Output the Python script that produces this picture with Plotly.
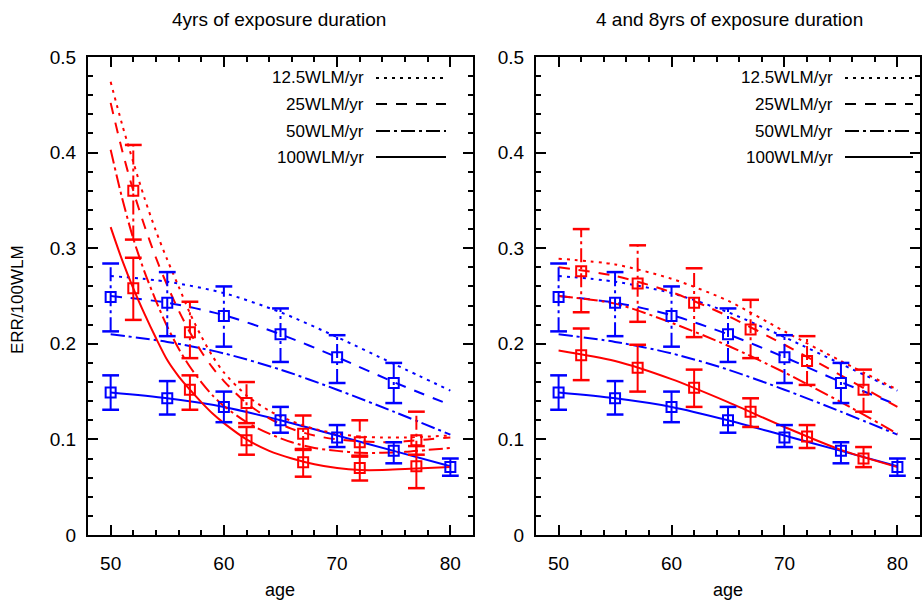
import plotly.graph_objects as go

# ---------------- data ----------------
blue_ages = [50, 55, 60, 65, 70, 75, 80]
blue_12_5 = [0.271, 0.265, 0.253, 0.233, 0.207, 0.179, 0.151]
blue_25 = [0.250, 0.243, 0.230, 0.210, 0.186, 0.160, 0.136]
blue_50 = [0.210, 0.202, 0.190, 0.173, 0.152, 0.129, 0.105]
blue_100 = [0.149, 0.143, 0.134, 0.120, 0.104, 0.088, 0.072]

red_left_ages = [50, 51, 52, 53, 54, 55, 56, 57, 58, 59, 60, 62, 64, 66, 68, 70, 72, 74, 76, 78, 80]
red_left_12_5 = [0.474, 0.430, 0.390, 0.352, 0.318, 0.288, 0.260, 0.232, 0.208, 0.187, 0.170, 0.146, 0.130,
                 0.119, 0.111, 0.106, 0.103, 0.102, 0.102, 0.103, 0.104]
red_left_25 = [0.452, 0.403, 0.360, 0.323, 0.290, 0.261, 0.235, 0.212, 0.192, 0.175, 0.161, 0.138, 0.122,
               0.111, 0.104, 0.100, 0.098, 0.097, 0.098, 0.100, 0.102]
red_left_50 = [0.403, 0.353, 0.310, 0.275, 0.245, 0.218, 0.195, 0.176, 0.160, 0.146, 0.135, 0.118, 0.106,
               0.097, 0.091, 0.088, 0.086, 0.086, 0.087, 0.089, 0.091]
red_left_100 = [0.322, 0.288, 0.258, 0.231, 0.206, 0.183, 0.166, 0.152, 0.139, 0.127, 0.117, 0.100, 0.088,
                0.080, 0.074, 0.070, 0.068, 0.068, 0.069, 0.070, 0.071]

red_right_ages = [50, 55, 60, 65, 70, 75, 80]
red_right_12_5 = [0.289, 0.283, 0.268, 0.245, 0.213, 0.182, 0.152]
red_right_25 = [0.280, 0.271, 0.254, 0.229, 0.199, 0.167, 0.134]
red_right_50 = [0.250, 0.242, 0.222, 0.198, 0.170, 0.139, 0.106]
red_right_100 = [0.193, 0.182, 0.163, 0.139, 0.113, 0.089, 0.071]

blue_up_ages = [50, 55, 60, 65, 70, 75]
blue_up_val = [0.249, 0.243, 0.229, 0.210, 0.186, 0.159]
blue_up_lo = [0.213, 0.208, 0.197, 0.181, 0.159, 0.138]
blue_up_hi = [0.284, 0.275, 0.260, 0.237, 0.209, 0.180]
blue_lo_ages = [50, 55, 60, 65, 70, 75, 80]
blue_lo_val = [0.149, 0.143, 0.134, 0.120, 0.102, 0.088, 0.071]
blue_lo_lo = [0.131, 0.126, 0.118, 0.107, 0.092, 0.075, 0.062]
blue_lo_hi = [0.167, 0.161, 0.150, 0.134, 0.115, 0.097, 0.080]

red_ages = [52, 57, 62, 67, 72, 77]
red_left_up_val = [0.360, 0.212, 0.138, 0.106, 0.097, 0.099]
red_left_up_lo = [0.309, 0.185, 0.117, 0.089, 0.082, 0.084]
red_left_up_hi = [0.408, 0.244, 0.160, 0.125, 0.120, 0.129]
red_left_lo_val = [0.258, 0.152, 0.099, 0.076, 0.070, 0.072]
red_left_lo_lo = [0.225, 0.131, 0.084, 0.061, 0.057, 0.049]
red_left_lo_hi = [0.290, 0.167, 0.113, 0.090, 0.083, 0.093]

red_right_up_val = [0.276, 0.263, 0.243, 0.215, 0.182, 0.152]
red_right_up_lo = [0.233, 0.223, 0.207, 0.185, 0.157, 0.129]
red_right_up_hi = [0.320, 0.303, 0.279, 0.246, 0.208, 0.173]
red_right_lo_val = [0.188, 0.175, 0.154, 0.129, 0.103, 0.080]
red_right_lo_lo = [0.162, 0.150, 0.134, 0.113, 0.091, 0.071]
red_right_lo_hi = [0.216, 0.199, 0.173, 0.143, 0.115, 0.092]

legend_labels = ["12.5WLM/yr", "25WLM/yr", "50WLM/yr", "100WLM/yr"]
titles = ["4yrs of exposure duration", "4 and 8yrs of exposure duration"]
x_ticks = [50, 60, 70, 80]
y_ticks = [0, 0.1, 0.2, 0.3, 0.4, 0.5]
y_tick_text = ["0", "0.1", "0.2", "0.3", "0.4", "0.5"]

# ---------------- style ----------------
W, H = 923, 602
RED = "#ff0000"
BLUE = "#0000ff"
FONT = "Liberation Sans, Arial, sans-serif"
DASHES = ["3px,5px", "11px,9px", "14px,4px,3px,4px", "solid"]


def pxx(p):
    return min(1.0, max(0.0, p / W))


def pxy(p):
    return min(1.0, max(0.0, 1 - p / H))


fig = go.Figure()


def add_curve(ages, vals, color, dash, xa, ya):
    fig.add_trace(go.Scatter(x=ages, y=vals, mode="lines", xaxis=xa, yaxis=ya,
                             line=dict(color=color, width=2, dash=dash, shape="spline", smoothing=0.8),
                             showlegend=False, hoverinfo="skip"))


def add_points(ages, vals, lo, hi, color, bar_dash, xa, ya):
    xs, ys = [], []
    for a, l, h in zip(ages, lo, hi):
        xs += [a, a, None]
        ys += [l, h, None]
    fig.add_trace(go.Scatter(x=xs, y=ys, mode="lines", xaxis=xa, yaxis=ya,
                             line=dict(color=color, width=2, dash=bar_dash),
                             showlegend=False, hoverinfo="skip"))
    fig.add_trace(go.Scatter(x=list(ages) + list(ages), y=list(lo) + list(hi), mode="markers",
                             xaxis=xa, yaxis=ya,
                             marker=dict(symbol="line-ew", size=12, line=dict(color=color, width=2.5)),
                             showlegend=False, hoverinfo="skip"))
    fig.add_trace(go.Scatter(x=ages, y=vals, mode="markers", xaxis=xa, yaxis=ya,
                             marker=dict(symbol="square-open", size=10, color=color,
                                         line=dict(color=color, width=2)),
                             showlegend=False, hoverinfo="skip"))


panels = [
    ("x", "y", red_left_ages, [red_left_12_5, red_left_25, red_left_50, red_left_100],
     (red_left_up_val, red_left_up_lo, red_left_up_hi), (red_left_lo_val, red_left_lo_lo, red_left_lo_hi)),
    ("x2", "y2", red_right_ages, [red_right_12_5, red_right_25, red_right_50, red_right_100],
     (red_right_up_val, red_right_up_lo, red_right_up_hi), (red_right_lo_val, red_right_lo_lo, red_right_lo_hi)),
]

for xa, ya, rages, rcurves, rup, rlo in panels:
    for vals, dash in zip([blue_12_5, blue_25, blue_50, blue_100], DASHES):
        add_curve(blue_ages, vals, BLUE, dash, xa, ya)
    for vals, dash in zip(rcurves, DASHES):
        add_curve(rages, vals, RED, dash, xa, ya)
    add_points(blue_up_ages, blue_up_val, blue_up_lo, blue_up_hi, BLUE, DASHES[2], xa, ya)
    add_points(blue_lo_ages, blue_lo_val, blue_lo_lo, blue_lo_hi, BLUE, "solid", xa, ya)
    add_points(red_ages, rup[0], rup[1], rup[2], RED, DASHES[2], xa, ya)
    add_points(red_ages, rlo[0], rlo[1], rlo[2], RED, "solid", xa, ya)

xaxis_common = dict(range=[48, 82], tickvals=x_ticks, ticks="inside", ticklen=10, tickwidth=1.5,
                    tickcolor="black", showline=True, linecolor="black", linewidth=2, mirror="allticks",
                    showgrid=False, zeroline=False, ticklabelstandoff=10, automargin=False,
                    tickfont=dict(family=FONT, size=19, color="black"),
                    minor=dict(ticks="inside", ticklen=5, tickwidth=1.5, tickcolor="black", dtick=2, tick0=48,
                               showgrid=False))
yaxis_common = dict(range=[0, 0.5], tickvals=y_ticks, ticktext=y_tick_text, ticks="inside", ticklen=10,
                    tickwidth=1.5, tickcolor="black", showline=True, linecolor="black", linewidth=2,
                    mirror="allticks", showgrid=False, zeroline=False, ticklabelstandoff=6, automargin=False,
                    tickfont=dict(family=FONT, size=19, color="black"),
                    minor=dict(ticks="inside", ticklen=5, tickwidth=1.5, tickcolor="black", dtick=0.02, tick0=0,
                               showgrid=False))

ydom = [pxy(535), pxy(57)]
fig.update_layout(
    width=W, height=H, margin=dict(l=0, r=0, t=0, b=0, pad=0, autoexpand=False),
    paper_bgcolor="white", plot_bgcolor="white", showlegend=False,
    font=dict(family=FONT, size=17, color="black"),
    xaxis=dict(domain=[pxx(88), pxx(473)], anchor="y", **xaxis_common),
    yaxis=dict(domain=ydom, anchor="x", **yaxis_common),
    xaxis2=dict(domain=[pxx(536), pxx(920)], anchor="y2", **xaxis_common),
    yaxis2=dict(domain=ydom, anchor="x2", **yaxis_common),
)

annotations = []
shapes = []
for title, cx in zip(titles, [279, 729]):
    annotations.append(dict(text=title, x=pxx(cx), y=pxy(20), xref="paper", yref="paper", showarrow=False,
                            xanchor="center", yanchor="middle", font=dict(family=FONT, size=19)))
for cx in [280, 728]:
    annotations.append(dict(text="age", x=pxx(cx), y=pxy(590), xref="paper", yref="paper", showarrow=False,
                            xanchor="center", yanchor="middle", font=dict(family=FONT, size=18)))
annotations.append(dict(text="ERR/100WLM", x=pxx(18), y=pxy(300), xref="paper", yref="paper", showarrow=False,
                        textangle=-90, xanchor="center", yanchor="middle", font=dict(family=FONT, size=17)))

legend_rows = [78, 104, 131, 157]
for text_right, l0, l1 in [(366, 376, 446), (835, 845, 913)]:
    for lab, dash, ry in zip(legend_labels, DASHES, legend_rows):
        annotations.append(dict(text=lab, x=pxx(text_right), y=pxy(ry), xref="paper", yref="paper",
                                showarrow=False, xanchor="right", yanchor="middle",
                                font=dict(family=FONT, size=17)))
        shapes.append(dict(type="line", xref="paper", yref="paper", x0=pxx(l0), x1=pxx(l1),
                           y0=pxy(ry), y1=pxy(ry), line=dict(color="black", width=2, dash=dash)))

fig.update_layout(annotations=annotations, shapes=shapes)

fig.write_html("out.html", config={"displayModeBar": False},
               post_script="document.body.style.margin='0';document.body.style.overflow='hidden';")
